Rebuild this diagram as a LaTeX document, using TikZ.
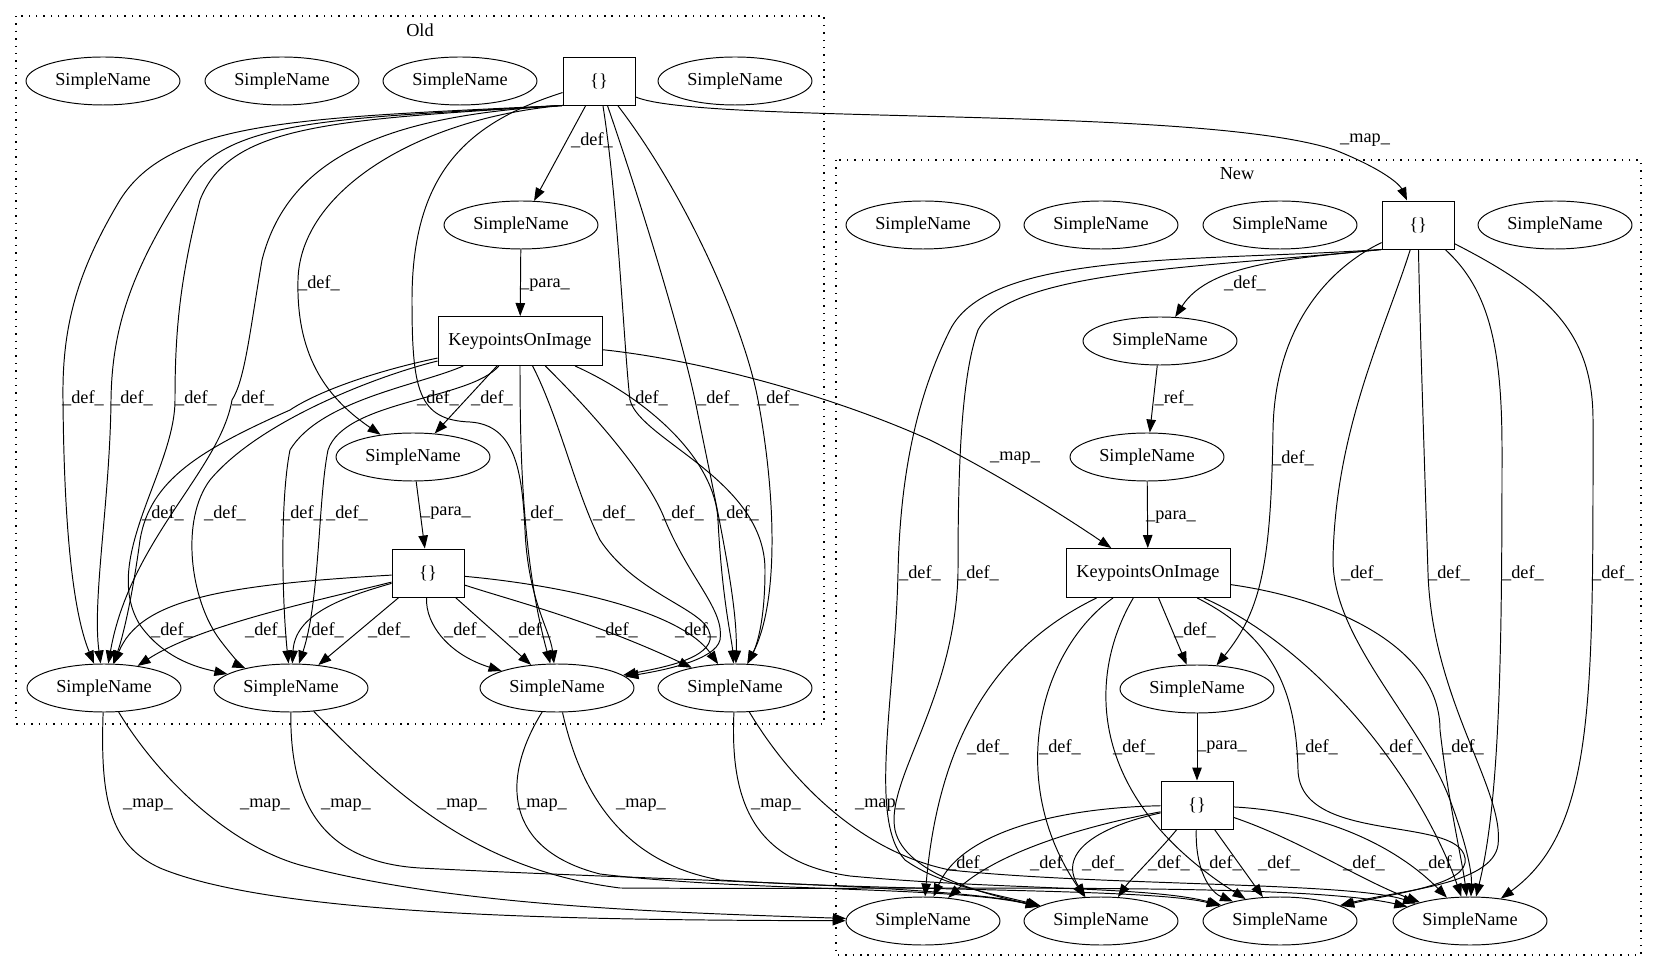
\documentclass[tikz,border=0pt]{standalone}
\usepackage{fontspec}
\setmainfont{Liberation Serif}
\usetikzlibrary{shapes.geometric,arrows.meta}

\begin{document}
\begin{tikzpicture}[x=0.02cm,y=-0.02cm,
    every node/.style={font=\fontsize{10.4}{12}\selectfont},
    sn/.style={draw,ellipse,line width=0.55pt,minimum width=3.08cm,minimum height=0.96cm,inner sep=0pt},
    blk/.style={draw,rectangle,line width=0.55pt,minimum width=1.44cm,minimum height=0.96cm},
    koi/.style={draw,rectangle,line width=0.55pt,minimum width=3.28cm,minimum height=0.98cm},
    flow/.style={line width=0.55pt,-{Triangle[length=0.26cm,width=0.19cm]}},
    lbl/.style={inner sep=0pt},
    cluster/.style={line width=0.6pt,dash pattern=on 0.8pt off 3.4pt}]
\useasboundingbox (0,0) rectangle (1659,972);

% clusters
\draw[cluster] (16,16) rectangle (824,724);
\draw[cluster] (836,160) rectangle (1641,955);
\node (oldtitle) at (420,30) {Old};
\node (newtitle) at (1237,174) {New};

% old version
\node[sn] (o1) at (103,81) {SimpleName};
\node[sn] (o2) at (282,81) {SimpleName};
\node[sn] (o3) at (460,81) {SimpleName};
\node[blk] (t1) at (599,81) {\{\}};
\node[sn] (o4) at (735,81) {SimpleName};
\node[sn] (s1) at (521,225) {SimpleName};
\node[koi] (k1) at (520,341) {KeypointsOnImage};
\node[sn] (sm1) at (413,457) {SimpleName};
\node[blk] (l1) at (428,573) {\{\}};
\node[sn] (a1) at (104,688) {SimpleName};
\node[sn] (a2) at (291,688) {SimpleName};
\node[sn] (a3) at (557,688) {SimpleName};
\node[sn] (a4) at (735,688) {SimpleName};

% new version
\node[sn] (n1) at (923,225) {SimpleName};
\node[sn] (n2) at (1101,225) {SimpleName};
\node[sn] (n3) at (1280,225) {SimpleName};
\node[blk] (t2) at (1418,225) {\{\}};
\node[sn] (n4) at (1555,225) {SimpleName};
\node[sn] (s2) at (1160,341) {SimpleName};
\node[sn] (s3) at (1147,457) {SimpleName};
\node[koi] (k2) at (1148,573) {KeypointsOnImage};
\node[sn] (sm2) at (1197,689) {SimpleName};
\node[blk] (l2) at (1197,805) {\{\}};
\node[sn] (b1) at (923,921) {SimpleName};
\node[sn] (b2) at (1101,921) {SimpleName};
\node[sn] (b3) at (1280,921) {SimpleName};
\node[sn] (b4) at (1470,921) {SimpleName};

% old: edges from the top block
\draw[flow] (t1) -- (s1) node[lbl] at (592,140) {\_def\_};
\draw[flow] (s1) -- (k1) node[lbl] at (545,285) {\_para\_};
\draw[flow] (t1.south west) .. controls (420,118) and (300,190) .. (298,280) .. controls (296,360) and (330,400) .. (sm1) node[lbl] at (319,283) {\_def\_};
\draw[flow] (t1.south west) .. controls (300,118) and (170,120) .. (120,200) .. controls (75,275) and (62,330) .. (63,400) .. controls (64,520) and (72,610) .. (a1) node[lbl] at (83,398) {\_def\_};
\draw[flow] (t1.south west) .. controls (350,118) and (230,118) .. (190,180) .. controls (130,270) and (112,330) .. (111,400) .. controls (110,500) and (92,600) .. (a1) node[lbl] at (132,398) {\_def\_};
\draw[flow] (t1.south west) .. controls (330,120) and (230,125) .. (200,200) .. controls (180,280) and (175,330) .. (175,400) .. controls (175,470) and (100,560) .. (140,625) .. controls (165,660) and (200,668) .. (a2) node[lbl] at (196,398) {\_def\_};
\draw[flow] (t1.south west) .. controls (400,115) and (290,150) .. (262,260) .. controls (250,330) and (245,380) .. (232,400) .. controls (220,470) and (130,540) .. (a1) node[lbl] at (253,398) {\_def\_};
\draw[flow] (t1) .. controls (470,122) and (412,170) .. (412,300) .. controls (412,390) and (418,420) .. (470,422) .. controls (515,425) and (522,470) .. (525,530) .. controls (528,600) and (550,630) .. (a3) node[lbl] at (438,398) {\_def\_};
\draw[flow] (t1) .. controls (618,200) and (624,350) .. (630,400) .. controls (640,440) and (765,480) .. (765,570) .. controls (765,620) and (757,645) .. (a4) node[lbl] at (647,398) {\_def\_};
\draw[flow] (t1) .. controls (640,200) and (680,330) .. (695,400) .. controls (715,500) and (738,600) .. (a4) node[lbl] at (718,398) {\_def\_};
\draw[flow] (t1) .. controls (690,200) and (745,330) .. (758,400) .. controls (775,490) and (780,600) .. (a4) node[lbl] at (778,398) {\_def\_};

% old: edges from KeypointsOnImage
\draw[flow] (k1) -- (sm1) node[lbl] at (492,398) {\_def\_};
\draw[flow] (sm1) -- (l1) node[lbl] at (446,513) {\_para\_};
\draw[flow] (k1) .. controls (380,370) and (320,390) .. (290,410) .. controls (200,450) and (150,480) .. (140,540) .. controls (132,600) and (122,640) .. (a1) node[lbl] at (163,513) {\_def\_};
\draw[flow] (k1) .. controls (380,375) and (260,420) .. (210,480) .. controls (180,520) and (190,600) .. (220,640) .. controls (235,660) and (245,668) .. (a2) node[lbl] at (225,513) {\_def\_};
\draw[flow] (k1) .. controls (420,385) and (320,400) .. (290,450) .. controls (280,500) and (282,600) .. (a2) node[lbl] at (302,513) {\_def\_};
\draw[flow] (k1) .. controls (470,400) and (345,400) .. (328,450) .. controls (318,500) and (320,600) .. (a2) node[lbl] at (347,513) {\_def\_};
\draw[flow] (k1) .. controls (520,450) and (522,560) .. (a3) node[lbl] at (542,513) {\_def\_};
\draw[flow] (k1) .. controls (560,420) and (575,490) .. (600,540) .. controls (640,600) and (715,610) .. (710,640) .. controls (705,660) and (660,668) .. (a3) node[lbl] at (614,513) {\_def\_};
\draw[flow] (k1) .. controls (600,420) and (650,480) .. (665,520) .. controls (690,580) and (725,610) .. (720,640) .. controls (715,660) and (665,670) .. (a3) node[lbl] at (683,513) {\_def\_};
\draw[flow] (k1) .. controls (650,400) and (715,460) .. (718,520) .. controls (722,600) and (732,640) .. (a4) node[lbl] at (738,513) {\_def\_};

% old: edges from the lower block
\draw[flow] (l1) .. controls (220,585) and (140,600) .. (a1) node[lbl] at (172,630) {\_def\_};
\draw[flow] (l1) .. controls (320,600) and (200,625) .. (a1) node[lbl] at (266,630) {\_def\_};
\draw[flow] (l1) .. controls (340,598) and (295,615) .. (a2) node[lbl] at (323,630) {\_def\_};
\draw[flow] (l1) -- (a2) node[lbl] at (389,630) {\_def\_};
\draw[flow] (l1) .. controls (425,625) and (450,655) .. (a3) node[lbl] at (465,630) {\_def\_};
\draw[flow] (l1) -- (a3) node[lbl] at (530,630) {\_def\_};
\draw[flow] (l1) .. controls (510,600) and (590,620) .. (a4) node[lbl] at (617,630) {\_def\_};
\draw[flow] (l1) .. controls (560,585) and (680,610) .. (a4) node[lbl] at (696,630) {\_def\_};

% old to new
\draw[flow] (t1) .. controls (700,125) and (1200,105) .. (1335,150) .. controls (1385,170) and (1400,185) .. (t2) node[lbl] at (1365,140) {\_map\_};
\draw[flow] (k1) .. controls (700,360) and (830,395) .. (930,440) .. controls (1000,475) and (1070,520) .. (k2) node[lbl] at (1015,458) {\_map\_};
\draw[flow] (a1) .. controls (100,800) and (110,845) .. (160,868) .. controls (280,918) and (600,920) .. (b1) node[lbl] at (148,805) {\_map\_};
\draw[flow] (a1) .. controls (160,780) and (230,845) .. (300,865) .. controls (450,905) and (650,912) .. (b1) node[lbl] at (265,805) {\_map\_};
\draw[flow] (a2) .. controls (290,800) and (320,862) .. (420,868) .. controls (650,880) and (950,885) .. (b2) node[lbl] at (346,805) {\_map\_};
\draw[flow] (a2) .. controls (400,800) and (480,870) .. (620,888) .. controls (950,890) and (1300,882) .. (b4) node[lbl] at (462,805) {\_map\_};
\draw[flow] (a3) .. controls (500,780) and (505,850) .. (600,874) .. controls (750,892) and (950,886) .. (b2) node[lbl] at (542,805) {\_map\_};
\draw[flow] (a3) .. controls (580,790) and (620,862) .. (720,880) .. controls (900,892) and (1150,888) .. (b3) node[lbl] at (641,805) {\_map\_};
\draw[flow] (a4) .. controls (730,800) and (752,862) .. (850,876) .. controls (1000,890) and (1150,886) .. (b3) node[lbl] at (776,805) {\_map\_};
\draw[flow] (a4) .. controls (790,780) and (860,852) .. (950,870) .. controls (1100,886) and (1350,882) .. (b4) node[lbl] at (880,805) {\_map\_};

% new: edges from the top block
\draw[flow] (t2.south west) .. controls (1300,258) and (1210,262) .. (s2) node[lbl] at (1245,283) {\_def\_};
\draw[flow] (s2) -- (s3) node[lbl] at (1174,398) {\_ref\_};
\draw[flow] (s3) -- (k2) node[lbl] at (1171,517) {\_para\_};
\draw[flow] (k2) -- (sm2) node[lbl] at (1195,630) {\_def\_};
\draw[flow] (sm2) -- (l2) node[lbl] at (1222,747) {\_para\_};
\draw[flow] (t2) .. controls (1335,265) and (1275,320) .. (1273,430) .. controls (1271,560) and (1262,610) .. (sm2) node[lbl] at (1293,458) {\_def\_};
\draw[flow] (t2.south west) .. controls (1200,262) and (990,250) .. (950,330) .. controls (915,400) and (900,480) .. (898,573) .. controls (895,700) and (868,820) .. (905,860) .. controls (940,885) and (990,893) .. (b2) node[lbl] at (920,573) {\_def\_};
\draw[flow] (t2.south west) .. controls (1200,268) and (1010,270) .. (978,330) .. controls (960,380) and (958,480) .. (958,573) .. controls (955,700) and (885,780) .. (895,830) .. controls (905,875) and (990,895) .. (b2) node[lbl] at (978,573) {\_def\_};
\draw[flow] (t2) .. controls (1385,330) and (1335,430) .. (1333,560) .. controls (1333,640) and (1420,720) .. (1450,800) .. controls (1465,840) and (1472,870) .. (b4) node[lbl] at (1362,573) {\_def\_};
\draw[flow] (t2) .. controls (1420,330) and (1425,480) .. (1428,573) .. controls (1432,700) and (1505,790) .. (1498,845) .. controls (1492,885) and (1400,890) .. (b3) node[lbl] at (1449,573) {\_def\_};
\draw[flow] (t2) .. controls (1490,290) and (1502,350) .. (1502,450) .. controls (1502,650) and (1500,800) .. (b4) node[lbl] at (1523,573) {\_def\_};
\draw[flow] (t2) .. controls (1545,290) and (1593,330) .. (1593,420) .. controls (1593,700) and (1595,830) .. (b4) node[lbl] at (1613,573) {\_def\_};

% new: edges from KeypointsOnImage
\draw[flow] (k2) .. controls (1010,640) and (940,720) .. (b1) node[lbl] at (988,747) {\_def\_};
\draw[flow] (k2) .. controls (1040,650) and (1005,780) .. (b2) node[lbl] at (1060,747) {\_def\_};
\draw[flow] (k2) .. controls (1085,680) and (1090,800) .. (b3) node[lbl] at (1134,747) {\_def\_};
\draw[flow] (k2) .. controls (1280,640) and (1296,700) .. (1298,770) .. controls (1300,845) and (1458,815) .. (1465,858) .. controls (1470,885) and (1395,893) .. (b3) node[lbl] at (1317,747) {\_def\_};
\draw[flow] (k2) .. controls (1320,650) and (1420,780) .. (b4) node[lbl] at (1401,747) {\_def\_};
\draw[flow] (k2) .. controls (1340,600) and (1440,650) .. (1440,730) .. controls (1448,800) and (1462,860) .. (b4) node[lbl] at (1463,747) {\_def\_};

% new: edges from the lower block
\draw[flow] (l2) .. controls (1050,808) and (960,835) .. (b1) node[lbl] at (968,863) {\_def\_};
\draw[flow] (l2) .. controls (1090,825) and (1000,850) .. (b1) node[lbl] at (1051,863) {\_def\_};
\draw[flow] (l2) .. controls (1105,825) and (1055,850) .. (b2) node[lbl] at (1103,863) {\_def\_};
\draw[flow] (l2) .. controls (1160,850) and (1130,880) .. (b2) node[lbl] at (1169,863) {\_def\_};
\draw[flow] (l2) .. controls (1195,870) and (1210,892) .. (b3) node[lbl] at (1221,863) {\_def\_};
\draw[flow] (l2) -- (b3) node[lbl] at (1279,863) {\_def\_};
\draw[flow] (l2) .. controls (1300,840) and (1360,880) .. (b4) node[lbl] at (1364,863) {\_def\_};
\draw[flow] (l2) .. controls (1330,812) and (1400,850) .. (b4) node[lbl] at (1440,863) {\_def\_};
\end{tikzpicture}
\end{document}
